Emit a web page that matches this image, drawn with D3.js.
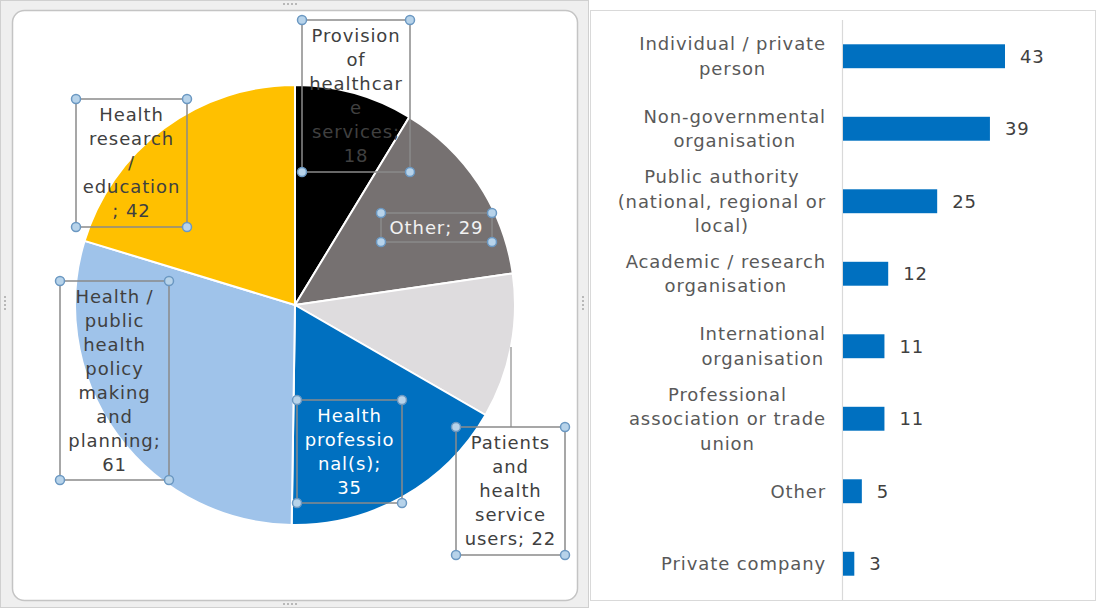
<!DOCTYPE html>
<html>
  <head>
    <meta charset="utf-8">
    <title>Respondents by type</title>
    <script src="https://d3js.org/d3.v7.min.js"></script>
    <style>
      body { margin: 0; background: #fff; }
      svg { display: block; font-family: "DejaVu Sans", Verdana, sans-serif; }
      svg text { letter-spacing: 0.9px; }
    </style>
  </head>
  <body>
    <svg id="chart" width="1097" height="608"></svg>
    <script>
      // pie data (clockwise from 12 o'clock)
      pieNames = ["Provision of healthcare services", "Other", "Patients and health service users",
        "Health professional(s)", "Health / public health policy making and planning", "Health research / education"];
      pieValues = [18, 29, 22, 35, 61, 42];
      pieLabelLines = [
        ["Provision", "of", "healthcar", "e", "services;", "18"],
        ["Other; 29"],
        ["Patients", "and", "health", "service", "users; 22"],
        ["Health", "professio", "nal(s);", "35"],
        ["Health /", "public", "health", "policy", "making", "and", "planning;", "61"],
        ["Health", "research", "/", "education", "; 42"]
      ];
      pieColours = ["#000000", "#767171", "#dedcde", "#0070c0", "#9fc3ea", "#ffc000"];

      // bar data
      barNames = ["Individual / private person", "Non-governmental organisation",
        "Public authority (national, regional or local)", "Academic / research organisation",
        "International organisation", "Professional association or trade union", "Other", "Private company"];
      barValues = [43, 39, 25, 12, 11, 11, 5, 3];
      barLabelLines = [
        ["Individual / private", "person"],
        ["Non-governmental", "organisation"],
        ["Public authority", "(national, regional or", "local)"],
        ["Academic / research", "organisation"],
        ["International", "organisation"],
        ["Professional", "association or trade", "union"],
        ["Other"],
        ["Private company"]
      ];

      svg = d3.select("#chart");
      fontSize = 18;

      // ---- left panel: excel-like chart frame
      svg.append("rect")
        .attr("x", 0.5).attr("y", 0.5).attr("width", 588).attr("height", 607)
        .attr("fill", "#efefef").attr("stroke", "#d0d0d0");
      svg.append("rect")
        .attr("x", 12.5).attr("y", 10.5).attr("width", 565).attr("height", 590).attr("rx", 12)
        .attr("fill", "#fff").attr("stroke", "#c4c4c4").attr("stroke-width", 1.5);
      // little grip dots on the frame
      [[290, 4, 1, 0], [290, 604, 1, 0], [5, 303, 0, 1], [583, 303, 0, 1]].forEach(function(g) {
        for (i = -1.5; i <= 1.5; i = i + 1) {
          svg.append("rect")
            .attr("x", g[0] + i * 4 * g[2] - 1).attr("y", g[1] + i * 4 * g[3] - 1)
            .attr("width", 2).attr("height", 2).attr("fill", "#b8b8b8");
        }
      });

      // ---- right panel frame
      svg.append("rect")
        .attr("x", 590.5).attr("y", 10.5).attr("width", 505).attr("height", 590)
        .attr("fill", "#fff").attr("stroke", "#d9d9d9");

      // ---- pie
      cx = 295; cy = 305; radius = 220;
      pie = d3.pie().sort(null).value(function(d) { return d; });
      arc = d3.arc().innerRadius(0).outerRadius(radius);
      pieGroup = svg.append("g").attr("transform", "translate(" + cx + "," + cy + ")");
      pieGroup.selectAll(".slice")
        .data(pie(pieValues))
        .enter().append("path")
          .classed("slice", true)
          .attr("d", arc)
          .attr("fill", function(d, i) { return pieColours[i]; })
          .attr("stroke", "#fff")
          .attr("stroke-width", 2)
          .attr("stroke-linejoin", "round");

      // label boxes, as offsets from the pie centre: [left, top, right, bottom]
      labelBoxes = [
        [7, -285, 115, -133],
        [86, -92, 197, -63],
        [161, 122, 270, 250],
        [2, 95, 107, 198],
        [-235, -24, -126, 175],
        [-219, -206, -108, -78]
      ];
      labelColours = ["#404040", "#f2f2f2", "#404040", "#ffffff", "#404040", "#404040"];
      lineHeight = 24;

      // leader line for the patients label
      pieGroup.append("line")
        .attr("x1", 216).attr("x2", 216)
        .attr("y1", 42).attr("y2", labelBoxes[2][1])
        .attr("stroke", "#8c8c8c").attr("stroke-width", 1.2);

      labels = pieGroup.selectAll(".pieLabel")
        .data(labelBoxes)
        .enter().append("g")
          .classed("pieLabel", true);
      labels.append("rect")
        .attr("x", function(d) { return d[0]; })
        .attr("y", function(d) { return d[1]; })
        .attr("width", function(d) { return d[2] - d[0]; })
        .attr("height", function(d) { return d[3] - d[1]; })
        .attr("fill", "none")
        .attr("stroke", "#8a8a8a")
        .attr("stroke-width", 1.5);
      labels.each(function(d, i) {
        let g = d3.select(this);
        let lines = pieLabelLines[i];
        let mid = (d[1] + d[3]) / 2;
        let midX = (d[0] + d[2]) / 2;
        g.selectAll("text")
          .data(lines)
          .enter().append("text")
            .attr("x", midX)
            .attr("y", function(t, j) { return mid + (j - (lines.length - 1) / 2) * lineHeight; })
            .attr("dy", "0.36em")
            .attr("text-anchor", "middle")
            .attr("font-size", fontSize)
            .attr("fill", labelColours[i])
            .text(function(t) { return t; });
        [[d[0], d[1]], [d[2], d[1]], [d[0], d[3]], [d[2], d[3]]].forEach(function(p) {
          g.append("circle")
            .attr("cx", p[0]).attr("cy", p[1]).attr("r", 4.5)
            .attr("fill", "#b7d3ea").attr("stroke", "#6b98c2").attr("stroke-width", 1.5);
        });
      });

      // ---- bar chart
      x = d3.scaleLinear()
        .domain([0, 43])
        .range([843, 1005]);
      y = d3.scaleBand()
        .domain(barNames)
        .range([20, 600])
        .paddingInner(0.67)
        .paddingOuter(0.335);

      svg.append("line")
        .attr("x1", 842.5).attr("x2", 842.5)
        .attr("y1", 20).attr("y2", 600)
        .attr("stroke", "#d9d9d9").attr("stroke-width", 1.2);

      svg.selectAll(".bar")
        .data(barValues)
        .enter().append("rect")
          .classed("bar", true)
          .attr("x", x(0))
          .attr("y", function(d, i) { return y(barNames[i]); })
          .attr("width", function(d) { return x(d) - x(0); })
          .attr("height", y.bandwidth())
          .attr("fill", "#0070c0");

      svg.selectAll(".value")
        .data(barValues)
        .enter().append("text")
          .classed("value", true)
          .attr("x", function(d) { return x(d) + 15; })
          .attr("y", function(d, i) { return y(barNames[i]) + y.bandwidth() / 2; })
          .attr("dy", "0.36em")
          .attr("font-size", fontSize)
          .attr("fill", "#404040")
          .text(function(d) { return d; });

      // category labels: block right aligned, lines centred within block
      barLabelLines.forEach(function(lines, i) {
        let g = svg.append("g").classed("category", true);
        let mid = y(barNames[i]) + y.bandwidth() / 2;
        let texts = g.selectAll("text")
          .data(lines)
          .enter().append("text")
            .attr("y", function(t, j) { return mid + (j - (lines.length - 1) / 2) * 24.5; })
            .attr("dy", "0.36em")
            .attr("text-anchor", "middle")
            .attr("font-size", fontSize)
            .attr("fill", "#595959")
            .text(function(t) { return t; });
        let widest = d3.max(texts.nodes(), function(n) { return n.getComputedTextLength(); });
        texts.attr("x", 826 - widest / 2);
      });
    </script>
  </body>
</html>
